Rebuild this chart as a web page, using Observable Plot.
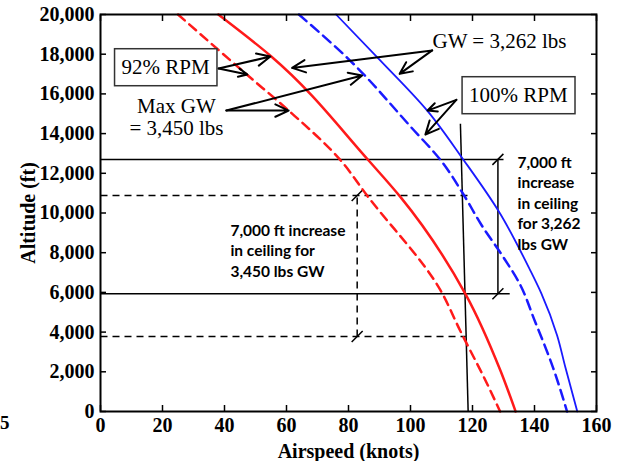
<!DOCTYPE html>
<html><head><meta charset="utf-8">
<script src="https://cdn.jsdelivr.net/npm/d3@7"></script>
<script src="https://cdn.jsdelivr.net/npm/@observablehq/plot@0.6"></script>
<style>
html,body{margin:0;padding:0;background:#fff;}
body{position:relative;width:623px;height:461px;overflow:hidden;}
#stray{position:absolute;left:0px;top:412px;font:19px "Liberation Serif";font-weight:bold;}
</style></head><body><div id="chart"></div><div id="stray">5</div>
<script>
// ---- tick values ----
const xTicks = [0, 20, 40, 60, 80, 100, 120, 140, 160];
const yTicks = [0, 2000, 4000, 6000, 8000, 10000, 12000, 14000, 16000, 18000, 20000];

// ---- curves: [airspeed (knots), altitude (ft)] ----
const rpm92_gw3262 = [[38,20000],[55,17900],[86.5,12645],[96.8,10800],[117.7,5930],[129,2065],[133.9,0]];
const rpm92_gw3450 = [[25,20000],[47,17000],[60.7,15160],[77.2,12700],[86,10880],[109.7,6100],[116,4080],[124.7,1400],[128.9,0]];
const rpm100_gw3262 = [[76,20000],[90.3,17680],[105.4,15160],[117,12700],[128.4,10100],[138.5,7150],[142.2,5950],[147.3,3830],[150,2200],[153.8,0]];
const rpm100_gw3450 = [[64,20000],[80.5,17680],[100.2,14320],[109.8,12645],[117.3,10880],[123,9370],[129.6,7860],[135.5,6350],[139.8,4680],[146,2200],[150.5,0]];

// ---- ceiling construction lines ----
const ceilingSolid = [{x1:0, x2:130, y:12700}, {x1:0, x2:132, y:5930}];
const ceilingDashed = [{x1:0, x2:118.4, y:10880}, {x1:0, x2:117.8, y:3780}];
const spanSolid = [{x:128.2, y1:5930, y2:12700}];
const spanDashed = [{x:82.8, y1:3780, y2:10880}];
const slashes = [{x:128.2, y:12700}, {x:128.2, y:5930}, {x:82.8, y:10880}, {x:82.8, y:3780}];
const verticalLine = [{x1:116.1, y1:14500, x2:118.6, y2:0}];

// ---- annotation arrows ----
const arrows = [
  {x1:38.1, y1:17280, x2:54.8, y2:17880},
  {x1:38.1, y1:17280, x2:47.4, y2:16980},
  {x1:40.6, y1:15160, x2:60.7, y2:15160},
  {x1:40.6, y1:15160, x2:84.4, y2:16930},
  {x1:107, y1:18190, x2:61.8, y2:17310},
  {x1:107, y1:18190, x2:96.5, y2:17010},
  {x1:114.8, y1:15700, x2:105.5, y2:15160},
  {x1:114.8, y1:15700, x2:104.8, y2:13950}
];

// ---- annotation labels ----
const boxedLabels = [{x:21, y:17330, text:"92% RPM"}, {x:134.8, y:15920, text:"100% RPM"}];
const serifLabels = [{x:24.5, y:14860, text:"Max GW\n= 3,450 lbs"}, {x:128.7, y:18690, text:"GW = 3,262 lbs"}];
const sansLabels = [
  {x:41.9, y:8160, text:"7,000 ft increase\nin ceiling for\n3,450 lbs GW"},
  {x:134.5, y:10545, text:"7,000 ft\nincrease\nin ceiling\nfor 3,262\nlbs GW"}
];

const slashSymbol = {
  draw(context, size) {
    const r = Math.sqrt(size / Math.PI);
    context.moveTo(-r, r);
    context.lineTo(r, -r);
  }
};

const toObj = (arr) => arr.map(([x, y]) => ({x, y}));

const plot = Plot.plot({
  width: 623,
  height: 461,
  marginLeft: 100,
  marginRight: 27,
  marginTop: 14,
  marginBottom: 50,
  style: "font-family:'Liberation Serif';font-size:20px;font-weight:bold;background:#fff;color:#000;",
  x: {domain: [0, 160]},
  y: {domain: [0, 20000]},
  marks: [
    // construction lines
    Plot.link(ceilingSolid, {x1:"x1", x2:"x2", y1:"y", y2:"y", stroke:"#000", strokeWidth:1.5}),
    Plot.link(ceilingDashed, {x1:"x1", x2:"x2", y1:"y", y2:"y", stroke:"#000", strokeWidth:1.5, strokeDasharray:"7,5"}),
    Plot.link(spanSolid, {x1:"x", x2:"x", y1:"y1", y2:"y2", stroke:"#000", strokeWidth:1.5}),
    Plot.link(spanDashed, {x1:"x", x2:"x", y1:"y1", y2:"y2", stroke:"#000", strokeWidth:1.5, strokeDasharray:"7,5"}),
    Plot.link(verticalLine, {x1:"x1", x2:"x2", y1:"y1", y2:"y2", stroke:"#000", strokeWidth:1.5}),
    Plot.dot(slashes, {x:"x", y:"y", symbol: slashSymbol, r:5.5, stroke:"#000", strokeWidth:1.5, fill:"none"}),
    // curves
    Plot.line(toObj(rpm92_gw3450), {x:"x", y:"y", stroke:"#ff1a1a", strokeWidth:2.5, strokeDasharray:"9,6", curve:"monotone-y"}),
    Plot.line(toObj(rpm92_gw3262), {x:"x", y:"y", stroke:"#ff1a1a", strokeWidth:2.5, curve:"monotone-y"}),
    Plot.line(toObj(rpm100_gw3450), {x:"x", y:"y", stroke:"#1a1aff", strokeWidth:2.5, strokeDasharray:"10,6", curve:"monotone-y"}),
    Plot.line(toObj(rpm100_gw3262), {x:"x", y:"y", stroke:"#1a1aff", strokeWidth:1.8, curve:"monotone-y"}),
    // arrows
    Plot.arrow(arrows, {x1:"x1", y1:"y1", x2:"x2", y2:"y2", stroke:"#000", strokeWidth:2, headLength:11, headAngle:50}),
    // labels
    Plot.text(boxedLabels, {x:"x", y:"y", text:"text", fontFamily:"Liberation Serif", fontSize:21, fontWeight:"normal", fill:"#000"}),
    Plot.text(serifLabels, {x:"x", y:"y", text:"text", fontFamily:"Liberation Serif", fontSize:21, fontWeight:"normal", lineHeight:1.05, fill:"#000"}),
    Plot.text(sansLabels, {x:"x", y:"y", text:"text", textAnchor:"start", fontFamily:"Lato", fontSize:15.5, fontWeight:"bold", lineHeight:1.33, fill:"#000"}),
    // axes
    Plot.axisX(xTicks, {anchor:"bottom", tickSize:-6, tickPadding:12, strokeWidth:1.5, label:"Airspeed (knots)", labelAnchor:"center", labelOffset:46, labelArrow:false}),
    Plot.axisX(xTicks, {anchor:"top", tickSize:-6, strokeWidth:1.5, tickFormat:() => "", label:null}),
    Plot.axisY(yTicks, {anchor:"left", tickSize:-6, tickPadding:12, strokeWidth:1.5, tickFormat:d3.format(","), label:"Altitude (ft)", labelAnchor:"center", labelOffset:80, labelArrow:false}),
    Plot.axisY(yTicks, {anchor:"right", tickSize:-6, strokeWidth:1.5, tickFormat:() => "", label:null}),
    Plot.frame({stroke:"#000", strokeWidth:2})
  ]
});

document.getElementById("chart").appendChild(plot);

// draw boxes around the boxed labels (found by their text)
const boxedTexts = new Set(boxedLabels.map((d) => d.text));
plot.querySelectorAll("text").forEach((t) => {
  if (!boxedTexts.has(t.textContent.trim())) return;
  const b = t.getBBox();
  const rect = document.createElementNS("http://www.w3.org/2000/svg", "rect");
  const padX = 7, padY = 6.5;
  rect.setAttribute("x", b.x - padX);
  rect.setAttribute("y", b.y - padY);
  rect.setAttribute("width", b.width + 2 * padX);
  rect.setAttribute("height", b.height + 2 * padY);
  rect.setAttribute("fill", "#fff");
  rect.setAttribute("stroke", "#333");
  rect.setAttribute("stroke-width", "1.5");
  const tr = t.getAttribute("transform");
  if (tr) rect.setAttribute("transform", tr);
  t.parentNode.insertBefore(rect, t);
});
</script>
</body></html>
